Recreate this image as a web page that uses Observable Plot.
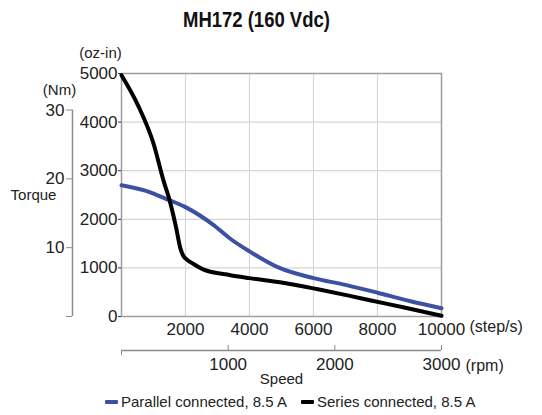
<!DOCTYPE html>
<html><head><meta charset="utf-8">
<script src="https://cdn.jsdelivr.net/npm/d3@7"></script>
<script src="https://cdn.jsdelivr.net/npm/@observablehq/plot@0.6"></script>
<style>
body{margin:0;background:#fff;font-family:"Liberation Sans",Arial,sans-serif;color:#222;}
#title{width:512px;height:38px;line-height:40px;text-align:center;color:#111;}
#title span{display:inline-block;font-family:"Liberation Sans",Arial,sans-serif;font-weight:bold;font-size:22px;transform:scaleX(0.84);transform-origin:center;}
#chart svg{display:block;}
#legend{display:flex;align-items:center;height:27px;padding-left:105px;font-size:15px;color:#222;}
.sw{display:inline-block;width:13px;height:4px;margin-right:3px;border-radius:1px;}
.item{display:flex;align-items:center;margin-right:14px;}
</style></head><body>
<div id="title"><span>MH172 (160 Vdc)</span></div>
<div id="chart"></div>
<div id="legend"></div>
<script>
// Speed in step/s, torque in oz-in
const parallelSpeed  = [0, 880, 1320, 2000, 2900, 3400, 4000, 4900, 6000, 7000, 8000, 9000, 10000];
const parallelTorque = [2700, 2560, 2440, 2250, 1870, 1600, 1340, 1010, 790, 650, 490, 320, 170];
const seriesSpeed  = [0, 520, 1000, 1320, 1500, 1700, 1850, 1930, 2050, 2250, 2550, 3400, 4000, 5000, 6100, 7100, 7800, 8800, 10000];
const seriesTorque = [4965, 4340, 3560, 2780, 2400, 1850, 1380, 1250, 1170, 1080, 970, 850, 790, 700, 565, 430, 330, 190, 15];
const seriesNames = ["Parallel connected, 8.5 A", "Series connected, 8.5 A"];
const seriesColors = ["#3d51a3", "#000000"];
const ozTicks = [0, 1000, 2000, 3000, 4000, 5000];
const nmTicks = [0, 10, 20, 30];
const stepTicks = [2000, 4000, 6000, 8000, 10000];
const rpmTicks = [1000, 2000, 3000];
const OZIN_PER_NM = 141.6;
const RPM_PER_STEP = 0.3; // 200 steps/rev

const parallel = parallelSpeed.map((s, i) => ({speed: s, torque: parallelTorque[i]}));
const series = seriesSpeed.map((s, i) => ({speed: s, torque: seriesTorque[i]}));

const gridColor = "#ddd3d3";
const frameColor = "#a39a9a";
const axisColor = "#8f8a8a";
const fmt = d => String(d);

const chart = Plot.plot({
  width: 542,
  height: 350,
  marginTop: 35,
  marginLeft: 121,
  marginRight: 101,
  marginBottom: 72,
  style: {fontFamily: "'Liberation Sans', Arial, sans-serif", fontSize: "17px", color: "#222", background: "#fff"},
  x: {domain: [0, 10000]},
  y: {domain: [0, 5000]},
  marks: [
    Plot.gridX(stepTicks.slice(0, -1), {stroke: gridColor, strokeOpacity: 1, strokeWidth: 1.2}),
    Plot.gridY(ozTicks.slice(1, -1), {stroke: gridColor, strokeOpacity: 1, strokeWidth: 1.2}),
    Plot.frame({stroke: frameColor, strokeWidth: 1.5}),
    Plot.line(parallel, {x: "speed", y: "torque", stroke: seriesColors[0], strokeWidth: 4, curve: "monotone-x"}),
    Plot.line(series, {x: "speed", y: "torque", stroke: seriesColors[1], strokeWidth: 4, curve: "monotone-x"}),
    // oz-in axis
    Plot.axisY({ticks: ozTicks, tickFormat: fmt, tickSize: 3, tickPadding: 1, stroke: "#333", label: null, fontSize: 17}),
    // Nm axis
    Plot.ruleX([0], {y1: 0, y2: nmTicks[nmTicks.length - 1] * OZIN_PER_NM, dx: -49, stroke: axisColor, strokeWidth: 1.5}),
    Plot.axisY({ticks: nmTicks.map(d => d * OZIN_PER_NM), tickFormat: d => d === 0 ? "" : String(Math.round(d / OZIN_PER_NM)), tickSize: 6, tickPadding: 2, dx: -49, stroke: axisColor, label: null, fontSize: 17}),
    // step/s axis
    Plot.axisX({ticks: stepTicks, tickFormat: fmt, tickSize: 0, tickPadding: 6, label: null, fontSize: 17}),
    Plot.text(["(step/s)"], {frameAnchor: "bottom-right", textAnchor: "start", dx: 28, dy: 15, fontSize: 16}),
    // rpm axis
    Plot.ruleY([0], {x1: 0, x2: 10000, dy: 34, stroke: axisColor, strokeWidth: 1.5}),
    Plot.axisX({ticks: rpmTicks.map(r => r / RPM_PER_STEP), tickFormat: d => String(Math.round(d * RPM_PER_STEP)), tickSize: -5, tickPadding: 12, dy: 34, stroke: axisColor, label: null, fontSize: 17}),
    Plot.axisX({ticks: [0], tickFormat: () => "", tickSize: 5, dy: 34, stroke: axisColor, label: null}),
    Plot.text(["(rpm)"], {frameAnchor: "bottom-right", textAnchor: "start", dx: 24, dy: 54, fontSize: 16}),
    Plot.text(["Speed"], {frameAnchor: "bottom", dy: 67, fontSize: 15}),
    // y unit labels
    Plot.text(["(oz-in)"], {frameAnchor: "top-left", textAnchor: "middle", dx: -21, dy: -26, fontSize: 15}),
    Plot.text(["(Nm)"], {frameAnchor: "top-left", textAnchor: "middle", dx: -62, dy: 11, fontSize: 15}),
    Plot.text(["Torque"], {frameAnchor: "left", textAnchor: "middle", dx: -88, dy: 0, fontSize: 15})
  ]
});
document.getElementById("chart").appendChild(chart);

const legend = document.getElementById("legend");
seriesNames.forEach((name, i) => {
  const it = document.createElement("span");
  it.className = "item";
  const sw = document.createElement("span");
  sw.className = "sw";
  sw.style.background = seriesColors[i];
  it.appendChild(sw);
  it.appendChild(document.createTextNode(name));
  legend.appendChild(it);
});
</script>
</body></html>
